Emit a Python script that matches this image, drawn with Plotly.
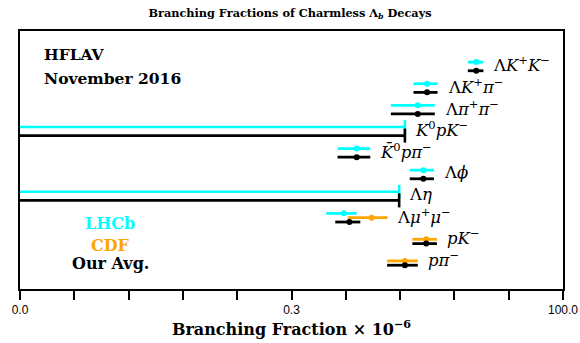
import math
import plotly.graph_objects as go

# Decay modes, top to bottom
decays = [
    "Λ<i>K</i><sup>+</sup><i>K</i><sup>−</sup>",
    "Λ<i>K</i><sup>+</sup><i>π</i><sup>−</sup>",
    "Λ<i>π</i><sup>+</sup><i>π</i><sup>−</sup>",
    "<i>K</i><sup>0</sup><i>pK</i><sup>−</sup>",
    "<i>K̄</i><sup>0</sup><i>pπ</i><sup>−</sup>",
    "Λ<i>ϕ</i>",
    "Λ<i>η</i>",
    "Λ<i>μ</i><sup>+</sup><i>μ</i><sup>−</sup>",
    "<i>pK</i><sup>−</sup>",
    "<i>pπ</i><sup>−</sup>",
]

# Branching fractions (x 10^-6); None = no measurement
lhcb_val = [15.9, 5.6, 4.6, None, 1.26, 5.18, None, 0.96, None, None]
lhcb_err = [2.6, 1.4, 2.0, None, 0.42, 1.3, None, 0.30, None, None]
lhcb_limit = [None, None, None, 3.5, None, None, 3.1, None, None, None]

cdf_val = [None, None, None, None, None, None, None, 1.73, 5.5, 3.5]
cdf_err = [None, None, None, None, None, None, None, 0.69, 1.4, 1.1]

avg_val = [15.9, 5.6, 4.6, None, 1.26, 5.18, None, 1.08, 5.5, 3.5]
avg_err = [2.6, 1.4, 2.0, None, 0.42, 1.3, None, 0.28, 1.4, 1.1]
avg_limit = [None, None, None, 3.5, None, None, 3.1, None, None, None]

tick_text = ["0.0", "", "", "", "", "0.3", "", "", "", "", "100.0"]

LOG_RANGE = [-3, 2]
X_MIN = 10 ** LOG_RANGE[0]

CYAN = "#00FFFF"
ORANGE = "#FFA500"
BLACK = "#000000"
SERIF = "DejaVu Serif"

sources = [
    ("LHCb", lhcb_val, lhcb_err, lhcb_limit, CYAN, -0.2),
    ("CDF", cdf_val, cdf_err, [None] * len(decays), ORANGE, 0.0),
    ("Our Avg.", avg_val, avg_err, avg_limit, BLACK, 0.2),
]

fig = go.Figure()

for name, vals, errs, lims, color, off in sources:
    xs, ys, es = [], [], []
    for i, (v, e) in enumerate(zip(vals, errs)):
        if v is not None:
            xs.append(v)
            ys.append(i + off)
            es.append(e)
    fig.add_trace(go.Scatter(
        x=xs, y=ys, mode="markers", name=name,
        marker=dict(color=color, size=6),
        error_x=dict(type="data", array=es, color=color, thickness=2.8, width=0),
        showlegend=False, hoverinfo="x",
    ))
    # upper limits: bar from the left edge, closed by a vertical stroke
    lx, ly, ex, ey = [], [], [], []
    for i, lim in enumerate(lims):
        if lim is not None:
            lx += [X_MIN, lim, None]
            ly += [i + off, i + off, None]
            ex.append(lim)
            ey.append(i + off)
    if ex:
        fig.add_trace(go.Scatter(
            x=lx, y=ly, mode="lines", line=dict(color=color, width=2.6),
            showlegend=False, hoverinfo="skip",
        ))
        fig.add_trace(go.Scatter(
            x=ex, y=ey, mode="markers",
            marker=dict(symbol="line-ns", size=10, line=dict(color=color, width=2.6)),
            showlegend=False, hoverinfo="x",
        ))

# decay labels to the right of each row's marks
annotations = []
for i, lab in enumerate(decays):
    right = []
    for _, vals, errs, lims, _, _ in sources:
        if vals[i] is not None:
            right.append(vals[i] + errs[i])
        if lims[i] is not None:
            right.append(lims[i])
    annotations.append(dict(
        x=math.log10(max(right)), y=i, xref="x", yref="y",
        text=lab, showarrow=False, xanchor="left", yanchor="middle",
        xshift=8, yshift=2,
        font=dict(family=SERIF, size=16.5, color="black"),
    ))

annotations += [
    dict(x=0.04, y=0.91, xref="paper", yref="paper", text="<b>HFLAV</b>",
         showarrow=False, xanchor="left", yanchor="middle",
         font=dict(size=15.5, family=SERIF, color="black")),
    dict(x=0.04, y=0.815, xref="paper", yref="paper", text="<b>November 2016</b>",
         showarrow=False, xanchor="left", yanchor="middle",
         font=dict(size=15.5, family=SERIF, color="black")),
    dict(x=0.166, y=0.255, xref="paper", yref="paper", text="<b>LHCb</b>",
         showarrow=False, xanchor="center", yanchor="middle",
         font=dict(size=16, family=SERIF, color=CYAN)),
    dict(x=0.166, y=0.17, xref="paper", yref="paper", text="<b>CDF</b>",
         showarrow=False, xanchor="center", yanchor="middle",
         font=dict(size=16, family=SERIF, color=ORANGE)),
    dict(x=0.166, y=0.1, xref="paper", yref="paper", text="<b>Our Avg.</b>",
         showarrow=False, xanchor="center", yanchor="middle",
         font=dict(size=16, family=SERIF, color="black")),
]

tick_vals = [10 ** (LOG_RANGE[0] + k / 2) for k in range(len(tick_text))]

fig.update_layout(
    width=580, height=343,
    margin=dict(l=20, r=17, t=31, b=54, autoexpand=False),
    paper_bgcolor="white", plot_bgcolor="white",
    title=dict(
        text="<b>Branching Fractions of Charmless Λ<sub><i>b</i></sub> Decays</b>",
        x=0.5, xanchor="center", y=0.963, yanchor="middle",
        font=dict(family=SERIF, size=11.3, color="black"),
    ),
    xaxis=dict(
        type="log", range=LOG_RANGE, automargin=False,
        tickvals=tick_vals, ticktext=tick_text,
        ticks="outside", ticklen=9, tickwidth=2, tickcolor="black",
        showline=True, linewidth=2, linecolor="black", mirror=True,
        showgrid=False, zeroline=False,
        tickfont=dict(family="Liberation Sans", size=12, color="black"),
        title=dict(text="<b>Branching Fraction × 10<sup>−6</sup></b>", standoff=4,
                   font=dict(family=SERIF, size=16, color="black")),
    ),
    yaxis=dict(
        range=[10.3, -1.64], showticklabels=False, ticks="", automargin=False,
        showline=True, linewidth=2, linecolor="black", mirror=True,
        showgrid=False, zeroline=False,
    ),
    annotations=annotations,
)

fig.write_html("out.html")
